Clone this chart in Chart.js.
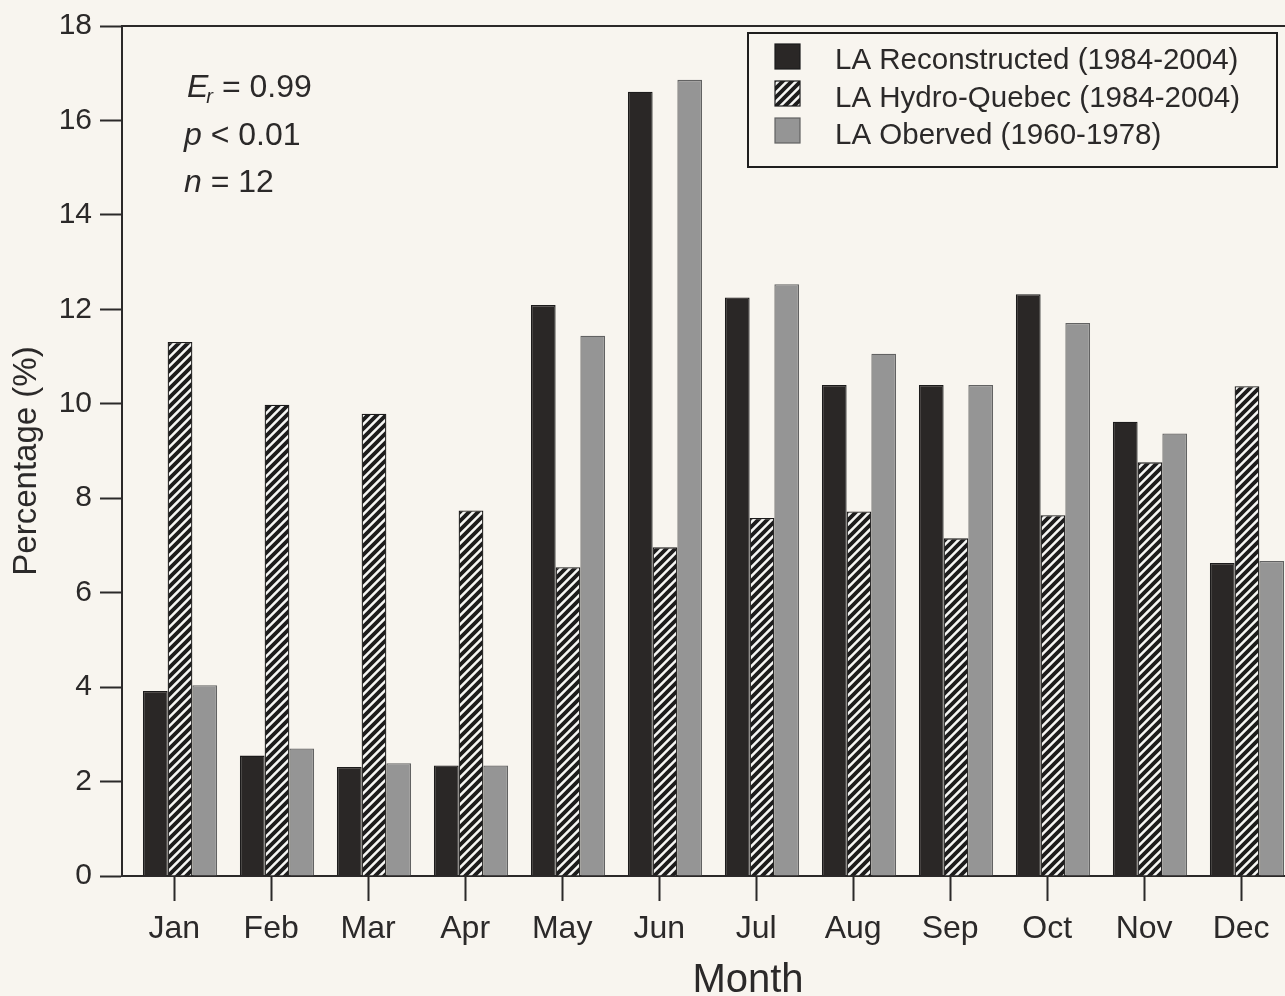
<!DOCTYPE html>
<html>
<head>
<meta charset="utf-8">
<script src="https://cdn.jsdelivr.net/npm/chart.js@4.4.1/dist/chart.umd.min.js"></script>
<style>
  html, body { margin: 0; padding: 0; background: #f8f5ef; overflow: hidden; }
  canvas { display: block; }
</style>
</head>
<body>
<canvas id="chart" width="1285" height="996"></canvas>
<script>
const months = ['Jan', 'Feb', 'Mar', 'Apr', 'May', 'Jun', 'Jul', 'Aug', 'Sep', 'Oct', 'Nov', 'Dec'];
const reconstructed = [3.92, 2.55, 2.31, 2.34, 12.09, 16.61, 12.25, 10.40, 10.40, 12.32, 9.62, 6.63];
const hydroQuebec   = [11.31, 9.98, 9.79, 7.74, 6.54, 6.96, 7.58, 7.72, 7.15, 7.64, 8.76, 10.37];
const observed      = [4.04, 2.70, 2.39, 2.34, 11.44, 16.86, 12.53, 11.06, 10.40, 11.71, 9.37, 6.67];
const seriesNames = ['LA Reconstructed (1984-2004)', 'LA Hydro-Quebec (1984-2004)', 'LA Oberved (1960-1978)'];
const yMin = 0, yMax = 18, yStep = 2;
const statLines = [
    { sym: 'E', sub: 'r', rest: ' = 0.99' },
    { sym: 'p', sub: '', rest: ' < 0.01' },
    { sym: 'n', sub: '', rest: ' = 12' }
];

const FONT = '"Liberation Sans", Arial, sans-serif';
const INK = '#2b2929';
const BG = '#f8f5ef';

// hatch fill for the Hydro-Quebec series
function makeHatch() {
    const s = 9;
    const c = document.createElement('canvas');
    c.width = s; c.height = s;
    const g = c.getContext('2d');
    g.fillStyle = '#f6f6f4';
    g.fillRect(0, 0, s, s);
    g.strokeStyle = '#1d1c1c';
    g.lineWidth = 3.8;
    g.beginPath();
    g.moveTo(-1, s + 1); g.lineTo(s + 1, -1);
    g.moveTo(-2, 2); g.lineTo(2, -2);
    g.moveTo(s - 2, s + 2); g.lineTo(s + 2, s - 2);
    g.stroke();
    return g.createPattern(c, 'repeat');
}

const ctx = document.getElementById('chart').getContext('2d');
const hatch = makeHatch();
const fills = ['#2a2726', hatch, '#959595'];
const borders = ['#1c1b1b', '#1c1b1b', '#626262'];

const decorations = {
    id: 'decorations',
    beforeDraw(chart) {
        const c = chart.ctx;
        c.save();
        c.fillStyle = BG;
        c.fillRect(0, 0, chart.width, chart.height);
        c.restore();
    },
    afterDraw(chart) {
        const c = chart.ctx;
        const area = chart.chartArea;
        c.save();

        // top frame line
        c.strokeStyle = INK;
        c.lineWidth = 2;
        c.beginPath();
        c.moveTo(area.left, area.top);
        c.lineTo(area.right, area.top);
        c.stroke();

        c.fillStyle = INK;

        // axis titles
        c.font = '33px ' + FONT;
        c.textAlign = 'center';
        c.textBaseline = 'middle';
        c.save();
        c.translate(27, 461);
        c.rotate(-Math.PI / 2);
        c.fillText('Percentage (%)', 0, 0);
        c.restore();

        c.font = '40px ' + FONT;
        c.textBaseline = 'alphabetic';
        c.fillText('Month', 748, 992);

        // statistics text
        c.textAlign = 'left';
        statLines.forEach((ln, i) => {
            const y = 97 + i * 47.5;
            let x = ln.sym === 'E' ? 187 : 184;
            c.font = 'italic 32px ' + FONT;
            c.fillText(ln.sym, x, y);
            x += c.measureText(ln.sym).width;
            if (ln.sub) {
                c.font = 'italic 20px ' + FONT;
                c.fillText(ln.sub, x - 2, y + 6);
                x += c.measureText(ln.sub).width - 2;
            }
            c.font = '32px ' + FONT;
            c.fillText(ln.rest, x, y);
        });

        // legend box
        c.strokeStyle = '#1f1e1e';
        c.lineWidth = 2;
        c.strokeRect(748, 33, 529, 134);
        chart.data.datasets.forEach((ds, i) => {
            const sy = 44 + i * 37;
            c.fillStyle = ds.backgroundColor;
            c.fillRect(775, sy, 25, 25);
            c.strokeStyle = ds.borderColor;
            c.lineWidth = 1.2;
            c.strokeRect(775, sy, 25, 25);
            c.fillStyle = INK;
            c.font = '29.5px ' + FONT;
            c.textBaseline = 'middle';
            c.fillText(ds.label, 835, 61 + i * 37.5);
        });

        c.restore();
    }
};

const chart = new Chart(ctx, {
    type: 'bar',
    data: {
        labels: months,
        datasets: [reconstructed, hydroQuebec, observed].map((vals, i) => ({
            label: seriesNames[i],
            data: vals,
            backgroundColor: fills[i],
            borderColor: borders[i],
            borderWidth: 1.3,
            categoryPercentage: 0.765,
            barPercentage: 1.0
        }))
    },
    options: {
        responsive: false,
        animation: false,
        layout: { padding: { top: 23, right: 0, left: 0, bottom: 0 } },
        plugins: {
            legend: { display: false },
            tooltip: { enabled: false }
        },
        scales: {
            x: {
                offset: false,
                border: { display: true, color: INK, width: 2 },
                grid: { display: true, offset: false, drawOnChartArea: false, drawTicks: true, tickLength: 25, tickWidth: 2, tickColor: INK },
                ticks: {
                    autoSkip: false, maxRotation: 0, padding: 9,
                    color: INK, font: { family: FONT, size: 32 },
                    callback: (v, i) => months[i]
                },
                afterBuildTicks(scale) {
                    // first group sits a bit in from the y axis; tick marks sit slightly left of the bar groups
                    scale._startValue = -0.598;
                    scale._valueRange = 11.99;
                    scale.ticks = scale.ticks.map(t => ({ value: t.value - 0.06 }));
                },
                afterFit(scale) { scale.height = 120; }
            },
            y: {
                min: yMin, max: yMax,
                border: { display: true, color: INK, width: 2 },
                grid: { display: true, drawOnChartArea: false, drawTicks: true, tickLength: 22, tickWidth: 2, tickColor: INK },
                ticks: { stepSize: yStep, padding: 8, color: INK, font: { family: FONT, size: 30 } },
                afterFit(scale) { scale.width = 122; }
            }
        }
    },
    plugins: [decorations]
});
</script>
</body>
</html>
